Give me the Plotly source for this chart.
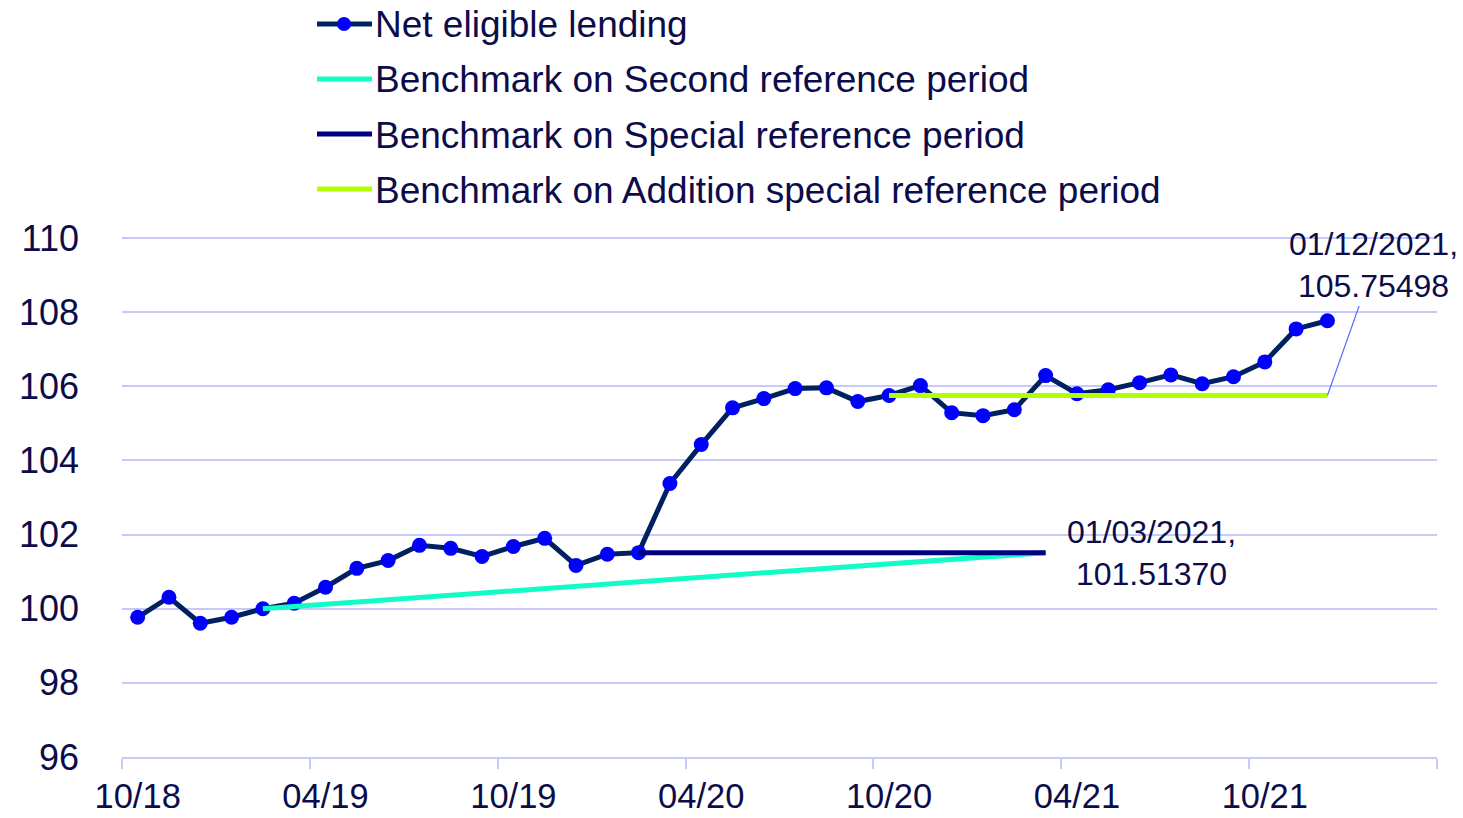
import plotly.graph_objects as go

# ---------------- data ----------------
months = [
    "10/18", "11/18", "12/18",
    "01/19", "02/19", "03/19", "04/19", "05/19", "06/19",
    "07/19", "08/19", "09/19", "10/19", "11/19", "12/19",
    "01/20", "02/20", "03/20", "04/20", "05/20", "06/20",
    "07/20", "08/20", "09/20", "10/20", "11/20", "12/20",
    "01/21", "02/21", "03/21", "04/21", "05/21", "06/21",
    "07/21", "08/21", "09/21", "10/21", "11/21", "12/21",
]
net_lending = [
    99.77, 100.31, 99.61,
    99.77, 100.00, 100.15, 100.58, 101.09, 101.30,
    101.71, 101.63, 101.41, 101.68, 101.90, 101.17,
    101.47, 101.5137, 103.38, 104.43, 105.42, 105.67,
    105.94, 105.96, 105.59, 105.75498, 106.02, 105.29,
    105.21, 105.37, 106.29, 105.80, 105.91, 106.10,
    106.31, 106.07, 106.26, 106.66, 107.55, 107.77,
]
tick_labels = ["10/18", "04/19", "10/19", "04/20", "10/20", "04/21", "10/21"]
y_ticks = [96, 98, 100, 102, 104, 106, 108, 110]

second_ref_months = ["02/19", "03/21"]
second_ref_values = [100.0, 101.5137]
special_ref_months = ["02/20", "03/21"]
special_ref_values = [101.5137, 101.5137]
addition_ref_months = ["10/20", "12/21"]
addition_ref_values = [105.75498, 105.75498]

series_names = [
    "Net eligible lending",
    "Benchmark on Second reference period",
    "Benchmark on Special reference period",
    "Benchmark on Addition special reference period",
]
label_special = "01/03/2021,<br>101.51370"
label_addition = "01/12/2021,<br>105.75498"

# ---------------- styles ----------------
TEXT = "#0c0c4a"
GRID = "#c6c9fa"
C_DATA_LINE = "#002060"
C_MARKER = "#0000ff"
C_SECOND = "#12fcc6"
C_SPECIAL = "#000080"
C_ADDITION = "#b2ff00"
FONT = "Liberation Sans, Arial, sans-serif"

idx = {m: i for i, m in enumerate(months)}
n_axis = len(months) + 3  # axis runs three months past the last point

fig = go.Figure()
fig.add_trace(go.Scatter(
    x=[idx[m] for m in months], y=net_lending, mode="lines+markers",
    name=series_names[0], showlegend=False,
    line=dict(color=C_DATA_LINE, width=5),
    marker=dict(color=C_MARKER, size=15, line=dict(width=0)),
))
fig.add_trace(go.Scatter(
    x=[idx[m] for m in second_ref_months], y=second_ref_values, mode="lines",
    name=series_names[1], showlegend=False,
    line=dict(color=C_SECOND, width=5),
))
fig.add_trace(go.Scatter(
    x=[idx[m] for m in special_ref_months], y=special_ref_values, mode="lines",
    name=series_names[2], showlegend=False,
    line=dict(color=C_SPECIAL, width=5),
))
fig.add_trace(go.Scatter(
    x=[idx[m] for m in addition_ref_months], y=addition_ref_values, mode="lines",
    name=series_names[3], showlegend=False,
    line=dict(color=C_ADDITION, width=5),
))

# data labels
fig.add_annotation(
    x=idx[special_ref_months[-1]], y=special_ref_values[-1],
    text=label_special, showarrow=False, xanchor="left", yanchor="middle",
    xshift=19, align="center", font=dict(size=32, color=TEXT, family=FONT),
)
fig.add_annotation(
    x=idx[addition_ref_months[-1]], y=addition_ref_values[-1],
    text=label_addition, showarrow=True, arrowhead=0, arrowwidth=1.2,
    arrowcolor="#5a6cff", ax=46, ay=-130, align="center",
    font=dict(size=32, color=TEXT, family=FONT),
)

# manual legend (paper coordinates)
PLOT_L, PLOT_W, PLOT_B, PLOT_H = 122, 1315, 757, 520
def px_x(p):
    return (p - PLOT_L) / PLOT_W
def px_y(p):
    return (PLOT_B - p) / PLOT_H

legend_colors = [C_DATA_LINE, C_SECOND, C_SPECIAL, C_ADDITION]
legend_rows = [24, 79, 134, 189]
for name, col, row in zip(series_names, legend_colors, legend_rows):
    fig.add_shape(type="line", xref="paper", yref="paper",
                  x0=px_x(317), x1=px_x(372), y0=px_y(row), y1=px_y(row),
                  line=dict(color=col, width=5))
    fig.add_annotation(xref="paper", yref="paper", x=px_x(373), y=px_y(row + 1),
                       text=name, showarrow=False, xanchor="left", yanchor="middle",
                       font=dict(size=37, color=TEXT, family=FONT))
fig.add_shape(type="circle", xref="paper", yref="paper",
              x0=px_x(337), x1=px_x(351), y0=px_y(31), y1=px_y(17),
              fillcolor=C_MARKER, line=dict(width=0))

fig.update_layout(
    width=1463, height=818,
    margin=dict(l=122, r=26, t=237, b=61, autoexpand=False),
    plot_bgcolor="white", paper_bgcolor="white",
    font=dict(family=FONT, color=TEXT, size=36),
    showlegend=False,
)
fig.update_xaxes(
    automargin=False,
    range=[-0.5, n_axis - 0.5],
    tickmode="array", tickvals=[idx[t] for t in tick_labels], ticktext=tick_labels,
    ticks="", showgrid=False, zeroline=False,
    showline=True, linecolor=GRID, linewidth=2,
    tickfont=dict(size=34.5, color=TEXT),
    ticklabelstandoff=8,
    minor=dict(tick0=-0.5, dtick=6, ticks="outside", ticklen=10,
               tickwidth=2, tickcolor=GRID, showgrid=False),
)
fig.update_yaxes(
    automargin=False,
    range=[96, 110.03], tickmode="array", tickvals=y_ticks,
    showgrid=True, gridcolor=GRID, gridwidth=2, zeroline=False,
    showline=False, ticks="", tickfont=dict(size=36, color=TEXT),
    ticklabelstandoff=42,
)

fig.write_html(
    "out.html",
    config={"displayModeBar": False},
    post_script="document.body.style.margin='0';document.body.style.overflow='hidden';",
)
